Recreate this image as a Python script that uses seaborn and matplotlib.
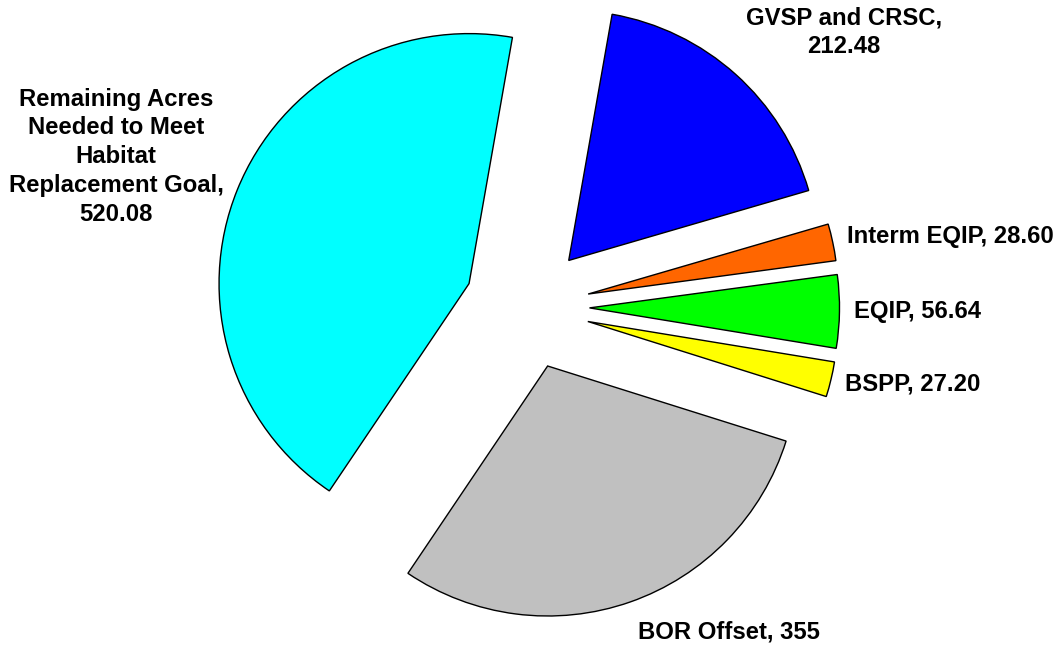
import numpy as np
import matplotlib
matplotlib.use("Agg")
import matplotlib.pyplot as plt
import seaborn as sns

labels = ["GVSP and CRSC,\n212.48", "Interm EQIP, 28.60", "EQIP, 56.64", "BSPP, 27.20",
          "BOR Offset, 355", "Remaining Acres\nNeeded to Meet\nHabitat\nReplacement Goal,\n520.08"]
values = [212.48, 28.60, 56.64, 27.20, 355, 520.08]
colors = ["#0000FF", "#FF6600", "#00FF00", "#FFFF00", "#C0C0C0", "#00FFFF"]

sns.set_style("white")
plt.rcParams['font.family'] = ['Liberation Sans', 'DejaVu Sans']

fig = plt.figure(figsize=(10.59, 6.45), dpi=100)
ax = fig.add_axes([0, 0, 1, 1])
explode = [0.25] * len(values)
wedges, _ = ax.pie(values, colors=colors, explode=explode, startangle=80, counterclock=False,
                   radius=1.0, center=(0, 0),
                   wedgeprops=dict(edgecolor="black", linewidth=1.0))

# label placement: (distance from exploded centre, angle offset deg, ha)
place = [(1.43, -8.5, "center"), (1.06, 0.5, "left"), (1.06, 0.0, "left"), (1.06, -0.3, "left"),
         (1.29, 15.0, "center"), (1.50, 2.2, "center")]
for w, lab, (d, dth, ha) in zip(wedges, labels, place):
    mid = np.deg2rad((w.theta1 + w.theta2) / 2)
    cx, cy = w.center
    a = mid + np.deg2rad(dth)
    ax.text(cx + d * np.cos(a), cy + d * np.sin(a), lab, ha=ha, va="center",
            fontsize=17.2, fontweight="bold", linespacing=1.32, color="black")

ax.set_xlim(-527 / 250, (1059 - 527) / 250)
ax.set_ylim((307 - 645) / 250, 307 / 250)
ax.set_aspect("equal")
ax.axis("off")
fig.savefig("out.png", dpi=100)
